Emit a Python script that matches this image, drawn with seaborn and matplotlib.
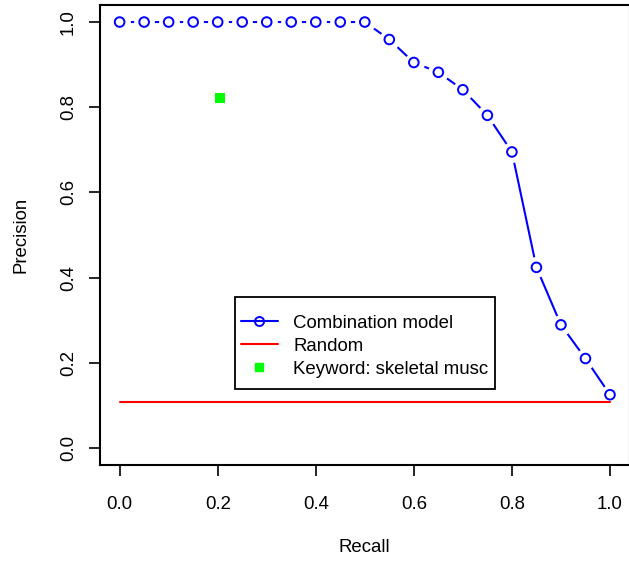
import matplotlib
matplotlib.use("Agg")
import matplotlib.pyplot as plt
import seaborn as sns
from matplotlib.lines import Line2D
from matplotlib.patches import Rectangle

# precision / recall curve of the combination model
recall = [0.0, 0.05, 0.1, 0.15, 0.2, 0.25, 0.3, 0.35, 0.4, 0.45, 0.5,
          0.55, 0.6, 0.65, 0.7, 0.75, 0.8, 0.85, 0.9, 0.95, 1.0]
precision = [1.0, 1.0, 1.0, 1.0, 1.0, 1.0, 1.0, 1.0, 1.0, 1.0, 1.0,
             0.959, 0.905, 0.882, 0.841, 0.781, 0.695, 0.424, 0.289, 0.21, 0.125]

# random baseline
random_recall = [0.0, 1.0]
random_precision = [0.107, 0.107]

# single keyword search
keyword_recall = [0.205]
keyword_precision = [0.822]

ticks = [0.0, 0.2, 0.4, 0.6, 0.8, 1.0]
tick_labels = ["0.0", "0.2", "0.4", "0.6", "0.8", "1.0"]

sns.set_theme(style="white")
plt.rcParams['font.family'] = ['Liberation Sans', 'DejaVu Sans']
fs = 13.4

W, H = 629, 562
fig = plt.figure(figsize=(W / 100, H / 100), dpi=100)
ax = fig.add_axes([100 / W, 1 - 465 / H, 529.6 / W, 460 / H])

# R "type = b": segments with gaps round each point
sns.lineplot(x=recall, y=precision, color='blue', linewidth=1.5, ax=ax, zorder=1)
sns.scatterplot(x=recall, y=precision, color='white', s=225, linewidth=0,
                marker='o', ax=ax, zorder=2)
sns.scatterplot(x=recall, y=precision, facecolor='none', edgecolor='blue',
                s=48, linewidth=1.4, marker='o', ax=ax, zorder=3)

sns.lineplot(x=random_recall, y=random_precision, color='red', linewidth=1.5,
             ax=ax, zorder=4)
sns.scatterplot(x=keyword_recall, y=keyword_precision, color='#00FF00', marker='s',
                s=44, linewidth=0, ax=ax, zorder=5)

ax.set_xlim(-0.04, 1.04)
ax.set_ylim(-0.04, 1.04)
ax.set_xticks(ticks)
ax.set_xticklabels(tick_labels)
ax.set_yticks(ticks)
ax.set_yticklabels(tick_labels, rotation=90, va='center')
ax.tick_params(direction='out', length=8, width=1.2, color='black',
               labelsize=fs, labelcolor='black', left=True, bottom=True)
ax.tick_params(axis='x', pad=14)
ax.tick_params(axis='y', pad=8.5)

for spine in ax.spines.values():
    spine.set_color('black')
    spine.set_linewidth(1.5)

ax.set_xlabel("Recall", fontsize=fs, color='black')
ax.set_ylabel("Precision", fontsize=fs, color='black')
ax.xaxis.set_label_coords(0.5, (465 - 547) / 460)
ax.xaxis.label.set_va('center')
ax.yaxis.set_label_coords((21 - 100) / 529.6, 0.5)
ax.yaxis.label.set_va('center')

# legend box (R legend has more vertical than horizontal padding)
ax.add_patch(Rectangle((235 / W, 1 - 389 / H), 260 / W, 92 / H,
                       transform=fig.transFigure, facecolor='white',
                       edgecolor='black', linewidth=1.3, zorder=9, clip_on=False))

handles = [
    Line2D([], [], color='blue', linewidth=1.5, marker='o', markersize=6.5,
           markerfacecolor='none', markeredgewidth=1.4),
    Line2D([], [], color='red', linewidth=1.5),
    Line2D([], [], color='#00FF00', linestyle='none', marker='s', markersize=6),
]
labels = ["Combination model", "Random", "Keyword: skeletal musc"]
leg = ax.legend(handles, labels, loc='upper left',
                bbox_to_anchor=(235 / W, 1 - 309 / H), bbox_transform=fig.transFigure,
                frameon=False, fontsize=fs, handlelength=2.0,
                handletextpad=0.84, labelspacing=0.33, borderpad=0.3,
                borderaxespad=0)
for t in leg.get_texts():
    t.set_color('black')
leg.set_zorder(10)

fig.savefig("out.png", dpi=100)
